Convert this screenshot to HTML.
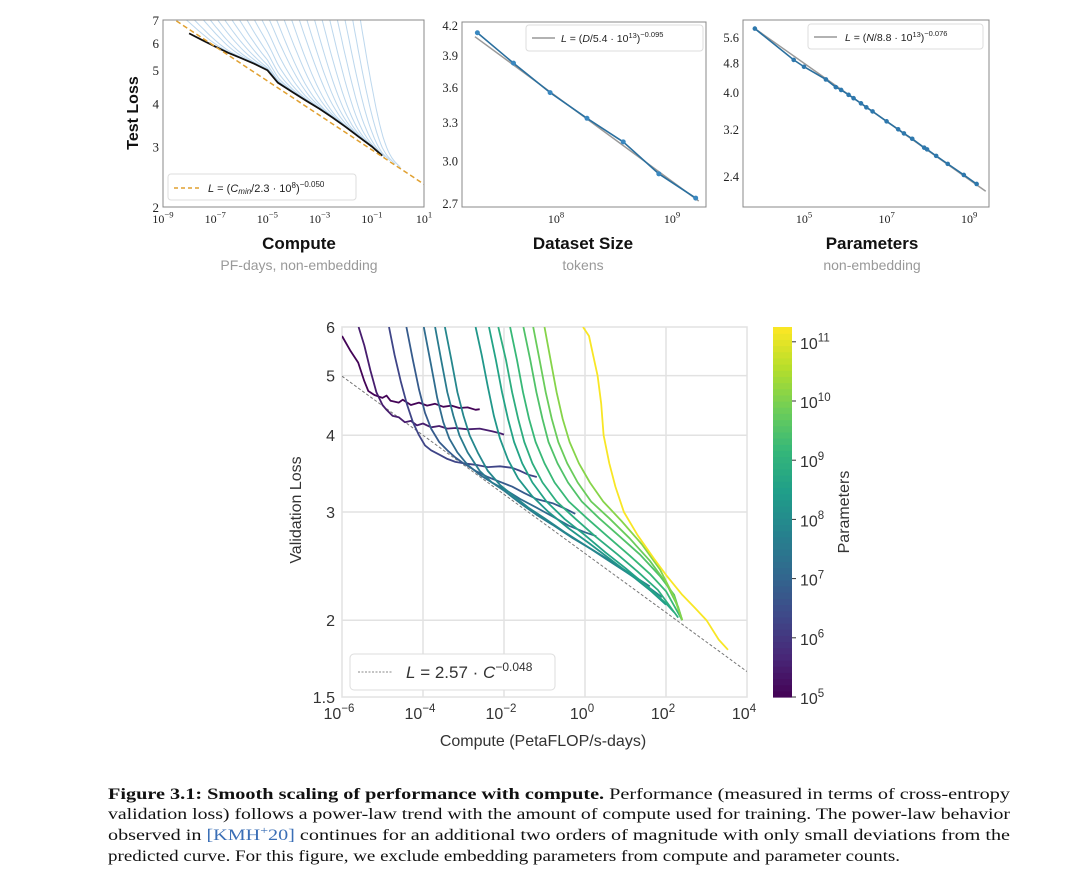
<!DOCTYPE html>
<html><head><meta charset="utf-8">
<style>
html,body{margin:0;padding:0;background:#fff;}
svg{display:block;}
.serif{font-family:"Liberation Serif",serif;}
.sans{font-family:"Liberation Sans",sans-serif;}
</style></head>
<body>
<svg id="fig" width="1080" height="879" viewBox="0 0 1080 879" xmlns="http://www.w3.org/2000/svg">
<g id="p1"></g>
<g id="p2"></g>
<g id="p3"></g>
<g id="main"></g>
<g id="caption" class="serif" font-size="16" fill="#111">
<text x="108" y="799" textLength="902" lengthAdjust="spacingAndGlyphs"><tspan font-weight="bold">Figure 3.1: Smooth scaling of performance with compute.</tspan> Performance (measured in terms of cross-entropy</text>
<text x="108" y="819" textLength="902" lengthAdjust="spacingAndGlyphs">validation loss) follows a power-law trend with the amount of compute used for training. The power-law behavior</text>
<text x="108" y="840" textLength="902" lengthAdjust="spacingAndGlyphs">observed in <tspan fill="#3b6fb6">[KMH<tspan baseline-shift="super" font-size="11">+</tspan>20]</tspan> continues for an additional two orders of magnitude with only small deviations from the</text>
<text x="108" y="861" textLength="792" lengthAdjust="spacingAndGlyphs">predicted curve. For this figure, we exclude embedding parameters from compute and parameter counts.</text>
</g>
</svg>
<script>
// ---------- DATA ----------
const p1Starts = [-8.6,-8.2,-7.8,-7.5,-7.2,-6.9,-6.6,-6.3,-6.0,-5.7,-5.4,-5.1,-4.8,-4.5,-4.2,-3.9,-3.6,-3.3,-3.0,-2.7,-2.4,-2.1,-1.8,-1.5];
const p1Ends   = [-6.2,-5.8,-5.3,-5.0,-4.6,-4.3,-4.0,-3.7,-3.4,-3.1,-2.8,-2.5,-2.3,-2.0,-1.8,-1.5,-1.3,-1.1,-0.9,-0.7,-0.5,-0.3,-0.1,0.1];
const p1FrontierX = [-8.0,-7.5,-7.0,-6.5,-6.0,-5.5,-5.0,-4.6,-4.0,-3.5,-3.0,-2.5,-2.0,-1.5,-1.0,-0.6];
const p1FrontierY = [6.4,6.12,5.86,5.62,5.42,5.22,5.0,4.6,4.3,4.07,3.86,3.64,3.42,3.2,3.0,2.82];
const p1FitX = [-9,1];
const p1FitY = [7.38,2.33];
const p2X = [2.1e7,4.3e7,8.9e7,1.85e8,3.8e8,7.7e8,1.6e9];
const p2Y = [4.13,3.83,3.56,3.34,3.15,2.91,2.74];
const p2FitX = [2.0e7,1.7e9];
const p2FitY = [4.09,2.72];
const p3X = [3.81,4.75,5.0,5.53,5.77,5.9,6.08,6.2,6.38,6.51,6.66,7.0,7.28,7.42,7.62,7.91,7.98,8.2,8.48,8.87,9.18];
const p3Y = [5.93,4.9,4.7,4.35,4.15,4.08,3.96,3.88,3.76,3.67,3.58,3.37,3.21,3.13,3.03,2.87,2.84,2.73,2.6,2.43,2.3];
const p3FitX = [3.81,9.4];
const p3FitY = [5.93,2.2];
const mainParams = [5.05,5.5,6.3,6.8,7.2,7.6,7.9,8.3,8.6,8.9,9.2,9.5,9.8,10.1,11.2];
const mainCurves = [
 [[-6,5.8],[-5.8,5.5],[-5.6,5.25],[-5.45,4.9],[-5.35,4.72],[-5.2,4.65],[-5.0,4.6],[-4.9,4.64],[-4.8,4.55],[-4.6,4.52],[-4.5,4.57],[-4.3,4.48],[-4.1,4.52],[-3.9,4.47],[-3.7,4.5],[-3.5,4.45],[-3.3,4.47],[-3.1,4.43],[-2.9,4.44],[-2.7,4.40],[-2.6,4.41]],
 [[-5.59,6],[-5.45,5.6],[-5.3,5.1],[-5.15,4.7],[-5.0,4.48],[-4.9,4.4],[-4.75,4.3],[-4.6,4.28],[-4.45,4.2],[-4.3,4.22],[-4.15,4.15],[-4.0,4.18],[-3.8,4.12],[-3.6,4.14],[-3.4,4.1],[-3.2,4.11],[-2.9,4.09],[-2.6,4.1],[-2.3,4.06],[-2.1,4.03],[-2.0,4.01]],
 [[-4.84,6],[-4.7,5.4],[-4.55,4.9],[-4.4,4.5],[-4.25,4.2],[-4.1,4.0],[-3.95,3.85],[-3.8,3.78],[-3.6,3.72],[-3.4,3.66],[-3.2,3.62],[-3.0,3.6],[-2.7,3.58],[-2.4,3.55],[-2.1,3.56],[-1.8,3.54],[-1.6,3.5],[-1.4,3.45],[-1.19,3.42]],
 [[-4.41,6],[-4.25,5.3],[-4.1,4.75],[-3.95,4.35],[-3.8,4.1],[-3.6,3.9],[-3.4,3.78],[-3.2,3.68],[-3.0,3.6],[-2.7,3.5],[-2.4,3.42],[-2.1,3.36],[-1.8,3.3],[-1.5,3.22],[-1.2,3.15],[-0.8,3.1],[-0.5,3.04],[-0.24,2.98]],
 [[-3.98,6],[-3.8,5.2],[-3.65,4.6],[-3.5,4.2],[-3.35,3.95],[-3.15,3.75],[-2.9,3.58],[-2.6,3.45],[-2.3,3.35],[-2.0,3.27],[-1.6,3.15],[-1.2,3.05],[-0.8,2.95],[-0.4,2.85],[0,2.78],[0.28,2.74]],
 [[-3.70,6],[-3.55,5.3],[-3.4,4.7],[-3.25,4.3],[-3.1,4.0],[-2.9,3.75],[-2.6,3.5],[-2.3,3.35],[-2.0,3.25],[-1.6,3.1],[-1.2,2.97],[-0.8,2.86],[-0.3,2.72],[0.2,2.6],[0.7,2.48],[1.2,2.36],[1.6,2.27]],
 [[-3.46,6],[-3.3,5.3],[-3.15,4.7],[-3.0,4.3],[-2.85,4.0],[-2.65,3.75],[-2.4,3.5],[-2.1,3.32],[-1.8,3.2],[-1.4,3.05],[-1.0,2.93],[-0.5,2.78],[0,2.65],[0.5,2.52],[1.0,2.4],[1.5,2.28],[1.9,2.18]],
 [[-2.70,6],[-2.55,5.4],[-2.4,4.8],[-2.25,4.3],[-2.1,3.95],[-1.9,3.65],[-1.65,3.4],[-1.3,3.18],[-0.9,3.0],[-0.4,2.82],[0.1,2.67],[0.6,2.52],[1.1,2.38],[1.6,2.24],[2.0,2.12]],
 [[-2.37,6],[-2.2,5.3],[-2.05,4.7],[-1.9,4.25],[-1.75,3.9],[-1.55,3.6],[-1.3,3.35],[-0.95,3.12],[-0.5,2.92],[0,2.75],[0.5,2.58],[1.0,2.43],[1.5,2.28],[2.0,2.13],[2.2,2.06]],
 [[-2.14,6],[-1.95,5.3],[-1.8,4.7],[-1.65,4.25],[-1.5,3.9],[-1.3,3.6],[-1.05,3.35],[-0.7,3.12],[-0.25,2.93],[0.25,2.74],[0.8,2.56],[1.3,2.4],[1.8,2.24],[2.3,2.02]],
 [[-1.85,6],[-1.68,5.3],[-1.53,4.7],[-1.38,4.25],[-1.22,3.9],[-1.0,3.6],[-0.75,3.35],[-0.4,3.12],[0.05,2.93],[0.55,2.74],[1.1,2.55],[1.6,2.38],[2.0,2.23],[2.4,2.0]],
 [[-1.52,6],[-1.35,5.3],[-1.2,4.7],[-1.05,4.25],[-0.9,3.9],[-0.68,3.6],[-0.42,3.35],[-0.08,3.12],[0.35,2.93],[0.85,2.74],[1.35,2.56],[1.85,2.36],[2.2,2.2],[2.4,2.0]],
 [[-1.28,6],[-1.12,5.3],[-0.97,4.7],[-0.82,4.25],[-0.66,3.9],[-0.44,3.6],[-0.18,3.35],[0.15,3.12],[0.6,2.93],[1.1,2.72],[1.6,2.5],[2.0,2.3],[2.3,2.1],[2.4,2.0]],
 [[-1.0,6],[-0.85,5.3],[-0.7,4.7],[-0.55,4.25],[-0.38,3.9],[-0.15,3.6],[0.12,3.35],[0.45,3.12],[0.9,2.9],[1.4,2.66],[1.85,2.42],[2.2,2.18],[2.4,2.0]],
 [[-0.05,6],[0.1,5.8],[0.2,5.4],[0.31,5.0],[0.4,4.5],[0.46,4.0],[0.6,3.6],[0.75,3.3],[0.96,3.0],[1.3,2.75],[1.7,2.52],[2.0,2.37],[2.4,2.2],[2.7,2.1],[3.0,2.0],[3.3,1.86],[3.53,1.79]]
];
const mainFitX = [-6,4];
const mainFitY = [4.99,1.65];
const mainYTicks = [1.5,2,3,4,5,6];
const mainYTickLabels = ["1.5","2","3","4","5","6"];
const mainXTicks = [-6,-4,-2,0,2,4];
const cbTicks = [5,6,7,8,9,10,11];

// ---------- HELPERS ----------
const NS = "http://www.w3.org/2000/svg";
function mk(parent, tag, attrs, txt){
  const e = document.createElementNS(NS, tag);
  for (const k in attrs) e.setAttribute(k, attrs[k]);
  if (txt !== undefined) e.textContent = txt;
  parent.appendChild(e);
  return e;
}
const L10 = Math.log10;
const viridis = ["#440154","#482878","#3e4989","#31688e","#26828e","#1f9e89","#35b779","#6ece58","#b5de2b","#fde725"];
function vcol(t){
  t = Math.max(0, Math.min(1, t));
  const f = t*(viridis.length-1), i = Math.floor(f), r = f - i;
  if (i >= viridis.length-1) return viridis[viridis.length-1];
  const a = viridis[i], b = viridis[i+1];
  const h = (s,o)=>parseInt(s.substr(o,2),16);
  const c = o => Math.round(h(a,o)*(1-r)+h(b,o)*r);
  return "rgb("+c(1)+","+c(3)+","+c(5)+")";
}
function sup(parent, x, y, base, exp, fs, anchor, cls, fill){
  const t = mk(parent, "text", {x:x, y:y, "font-size":fs, "text-anchor":anchor||"middle", class:cls, fill:fill||"#222"});
  
  
  mk(t, "tspan", {}, base);
  mk(t, "tspan", {dy:-fs*0.45, "font-size":fs*0.72}, exp);
  return t;
}

// ---------- PANEL 1 ----------
(function(){
  const g = document.getElementById("p1");
  const X0=163, X1=424, Y0=20, Y1=207;
  const xs = v => X0 + (v+9)/10*(X1-X0);
  const ys = v => Y1 - (L10(v)-L10(2))/(L10(7)-L10(2))*(Y1-Y0);
  const clip = mk(g,"clipPath",{id:"c1"}); mk(clip,"rect",{x:X0,y:Y0,width:X1-X0,height:Y1-Y0});
  const cg = mk(g,"g",{"clip-path":"url(#c1)"});
  function front(x){
    for (let i=0;i<p1FrontierX.length-1;i++){
      if (x<=p1FrontierX[i+1]){const r=(x-p1FrontierX[i])/(p1FrontierX[i+1]-p1FrontierX[i]);return p1FrontierY[i]*(1-r)+p1FrontierY[i+1]*r;}
    }
    const n=p1FrontierX.length-1; return p1FrontierY[n]*Math.pow(10,-0.05*(x-p1FrontierX[n]));
  }
  p1Starts.forEach((s,i)=>{
    const e = p1Ends[i];
    let d = "";
    const steps = 24;
    for (let k=0;k<=steps;k++){
      const x = s + (e-s)*k/steps;
      const fr = front(x);
      const u = k/steps;
      const l = fr + (7.4-fr)*Math.pow(1-u,3) + 0.08*Math.pow(1-u,0.5);
      d += (k?"L":"M")+xs(x).toFixed(1)+","+ys(l).toFixed(1);
    }
    const p = mk(cg,"path",{d:d,fill:"none",stroke:"#6aa7d8","stroke-width":1,"stroke-opacity":0.45});
    
    
  });
  let fd=""; p1FrontierX.forEach((x,i)=>{fd+=(i?"L":"M")+xs(x)+","+ys(p1FrontierY[i]);});
  const fp = mk(cg,"path",{d:fd,fill:"none",stroke:"#111","stroke-width":1.8});
  
  
  const fit = mk(cg,"line",{x1:xs(p1FitX[0]),y1:ys(p1FitY[0]),x2:xs(p1FitX[1]),y2:ys(p1FitY[1]),stroke:"#e0a030","stroke-width":1.5,"stroke-dasharray":"5,3"});
  
  
  mk(g,"rect",{x:X0,y:Y0,width:X1-X0,height:Y1-Y0,fill:"none",stroke:"#888","stroke-width":1});
  [2,3,4,5,6,7].forEach(v=>{
    const t = mk(g,"text",{x:X0-4,y:ys(v)+5,"font-size":13,"text-anchor":"end",class:"serif",fill:"#222"},String(v));
    
    
  });
  [-9,-7,-5,-3,-1,1].forEach(v=>sup(g,xs(v),Y1+16,"10",v<0?"−"+(-v):String(v),12,"middle","serif"));
  const lg = mk(g,"g",{});
  
  
  mk(lg,"rect",{x:168,y:174,width:188,height:26,rx:3,fill:"#fff",stroke:"#ddd"});
  mk(lg,"line",{x1:174,y1:188,x2:202,y2:188,stroke:"#e0a030","stroke-width":1.5,"stroke-dasharray":"4,3"});
  const lt = mk(lg,"text",{x:208,y:192,"font-size":11,class:"sans",fill:"#222","font-style":"italic"});
  mk(lt,"tspan",{},"L");mk(lt,"tspan",{"font-style":"normal"}," = (");mk(lt,"tspan",{},"C");mk(lt,"tspan",{"font-size":8,dy:2},"min");mk(lt,"tspan",{"font-style":"normal",dy:-2},"/2.3 · 10");mk(lt,"tspan",{"font-style":"normal","font-size":8,dy:-4},"8");mk(lt,"tspan",{"font-style":"normal",dy:4},")");mk(lt,"tspan",{"font-style":"normal","font-size":8,dy:-5},"−0.050");
  const yt = mk(g,"text",{x:138,y:113,"font-size":16,"font-weight":"bold",class:"sans","text-anchor":"middle",transform:"rotate(-90 138 113)",fill:"#111"},"Test Loss");
  
  
  const xt = mk(g,"text",{x:299,y:249,"font-size":17,"font-weight":"bold",class:"sans","text-anchor":"middle",fill:"#111"},"Compute");
  
  
  const st = mk(g,"text",{x:299,y:270,"font-size":14,class:"sans","text-anchor":"middle",fill:"#999"},"PF-days, non-embedding");
  
  
})();

// ---------- PANEL 2 ----------
(function(){
  const g = document.getElementById("p2");
  const X0=462, X1=706, Y0=22, Y1=207;
  const xs = v => 556 + (L10(v)-8)*116;
  const ys = v => 26 + (L10(4.2)-L10(v))/(L10(4.2)-L10(2.7))*178;
  mk(g,"rect",{x:X0,y:Y0,width:X1-X0,height:Y1-Y0,fill:"none",stroke:"#888"});
  const fit = mk(g,"line",{x1:xs(p2FitX[0]),y1:ys(p2FitY[0]),x2:xs(p2FitX[1]),y2:ys(p2FitY[1]),stroke:"#999","stroke-width":1.5});
  
  
  let d=""; p2X.forEach((x,i)=>{d+=(i?"L":"M")+xs(x)+","+ys(p2Y[i]);});
  const ln = mk(g,"path",{d:d,fill:"none",stroke:"#2a6f9e","stroke-width":1.6});
  
  
  p2X.forEach((x,i)=>{
    const c = mk(g,"circle",{cx:xs(x),cy:ys(p2Y[i]),r:2.5,fill:"#3a88c0"});
    
    
  });
  [2.7,3.0,3.3,3.6,3.9,4.2].forEach(v=>{
    const t = mk(g,"text",{x:X0-4,y:ys(v)+4,"font-size":12.5,"text-anchor":"end",class:"serif",fill:"#222"},v.toFixed(1));
    
    
  });
  [8,9].forEach(v=>sup(g,xs(Math.pow(10,v)),Y1+16,"10",String(v),12,"middle","serif"));
  const lg = mk(g,"g",{});
  
  
  mk(lg,"rect",{x:526,y:25,width:177,height:26,rx:3,fill:"#fff",stroke:"#ddd"});
  mk(lg,"line",{x1:532,y1:38,x2:555,y2:38,stroke:"#999","stroke-width":1.5});
  const lt = mk(lg,"text",{x:561,y:42,"font-size":10.5,class:"sans",fill:"#222"});
  mk(lt,"tspan",{"font-style":"italic"},"L");mk(lt,"tspan",{}," = (");mk(lt,"tspan",{"font-style":"italic"},"D");mk(lt,"tspan",{},"/5.4 · 10");mk(lt,"tspan",{"font-size":7.5,dy:-4},"13");mk(lt,"tspan",{dy:4},")");mk(lt,"tspan",{"font-size":7.5,dy:-5},"−0.095");
  const xt = mk(g,"text",{x:583,y:249,"font-size":17,"font-weight":"bold",class:"sans","text-anchor":"middle",fill:"#111"},"Dataset Size");
  
  
  const st = mk(g,"text",{x:583,y:270,"font-size":14,class:"sans","text-anchor":"middle",fill:"#999"},"tokens");
  
  
})();

// ---------- PANEL 3 ----------
(function(){
  const g = document.getElementById("p3");
  const X0=743, X1=989, Y0=20, Y1=207;
  const xs = v => 804 + (v-5)*41.3;
  const ys = v => 38 + (L10(5.6)-L10(v))/(L10(5.6)-L10(2.4))*139;
  mk(g,"rect",{x:X0,y:Y0,width:X1-X0,height:Y1-Y0,fill:"none",stroke:"#888"});
  const cl = mk(g,"clipPath",{id:"c3"}); mk(cl,"rect",{x:X0,y:Y0,width:X1-X0,height:Y1-Y0});
  const fit = mk(g,"line",{x1:xs(p3FitX[0]),y1:ys(p3FitY[0]),x2:xs(p3FitX[1]),y2:ys(p3FitY[1]),stroke:"#999","stroke-width":1.5,"clip-path":"url(#c3)"});
  
  
  let d=""; p3X.forEach((x,i)=>{d+=(i?"L":"M")+xs(x)+","+ys(p3Y[i]);});
  const ln = mk(g,"path",{d:d,fill:"none",stroke:"#2a6f9e","stroke-width":1.6});
  
  
  p3X.forEach((x,i)=>{
    const c = mk(g,"circle",{cx:xs(x),cy:ys(p3Y[i]),r:2.3,fill:"#2e78ad"});
    
    
  });
  ["2.4","3.2","4.0","4.8","5.6"].forEach(v=>{
    const t = mk(g,"text",{x:X0-4,y:ys(+v)+4,"font-size":12.5,"text-anchor":"end",class:"serif",fill:"#222"},v);
    
    
  });
  [5,7,9].forEach(v=>sup(g,xs(v),Y1+16,"10",String(v),12,"middle","serif"));
  const lg = mk(g,"g",{});
  
  
  mk(lg,"rect",{x:808,y:24,width:175,height:25,rx:3,fill:"#fff",stroke:"#ddd"});
  mk(lg,"line",{x1:814,y1:37,x2:837,y2:37,stroke:"#999","stroke-width":1.5});
  const lt = mk(lg,"text",{x:845,y:41,"font-size":10.5,class:"sans",fill:"#222"});
  mk(lt,"tspan",{"font-style":"italic"},"L");mk(lt,"tspan",{}," = (");mk(lt,"tspan",{"font-style":"italic"},"N");mk(lt,"tspan",{},"/8.8 · 10");mk(lt,"tspan",{"font-size":7.5,dy:-4},"13");mk(lt,"tspan",{dy:4},")");mk(lt,"tspan",{"font-size":7.5,dy:-5},"−0.076");
  const xt = mk(g,"text",{x:872,y:249,"font-size":17,"font-weight":"bold",class:"sans","text-anchor":"middle",fill:"#111"},"Parameters");
  
  
  const st = mk(g,"text",{x:872,y:270,"font-size":14,class:"sans","text-anchor":"middle",fill:"#999"},"non-embedding");
  
  
})();

// ---------- MAIN CHART ----------
(function(){
  const g = document.getElementById("main");
  const X0=342, X1=747, Y0=327, Y1=697;
  const xs = v => X0 + (v+6)/10*(X1-X0);
  const ys = v => Y0 + (L10(6)-L10(v))/(L10(6)-L10(1.5))*(Y1-Y0);
  const CB0=5, CB1=11.25;
  mainYTicks.forEach(v=>{ if(v>1.5&&v<6){ const l=mk(g,"line",{x1:X0,x2:X1,y1:ys(v),y2:ys(v),stroke:"#e2e2e2","stroke-width":1.5});   }});
  mainXTicks.forEach(v=>{ if(v>-6&&v<4){ const l=mk(g,"line",{x1:xs(v),x2:xs(v),y1:Y0,y2:Y1,stroke:"#e2e2e2","stroke-width":1.5});   }});
  mk(g,"rect",{x:X0,y:Y0,width:X1-X0,height:Y1-Y0,fill:"none",stroke:"#e2e2e2","stroke-width":1.5});
  const cl = mk(g,"clipPath",{id:"cm"}); mk(cl,"rect",{x:X0,y:Y0,width:X1-X0,height:Y1-Y0});
  const cg = mk(g,"g",{"clip-path":"url(#cm)"});
  const fit = mk(cg,"line",{x1:xs(mainFitX[0]),y1:ys(mainFitY[0]),x2:xs(mainFitX[1]),y2:ys(mainFitY[1]),stroke:"#777","stroke-width":1,"stroke-dasharray":"3,2"});
  
  
  mainCurves.forEach((pts,i)=>{
    let d=""; pts.forEach((p,k)=>{d+=(k?"L":"M")+xs(p[0]).toFixed(1)+","+ys(p[1]).toFixed(1);});
    const c = mk(cg,"path",{d:d,fill:"none",stroke:vcol((mainParams[i]-CB0)/(CB1-CB0)),"stroke-width":1.8,"stroke-linejoin":"round"});
    
    
  });
  mainYTicks.forEach((v,i)=>{
    const t = mk(g,"text",{x:X0-7,y:ys(v)+6,"font-size":16,"text-anchor":"end",class:"sans",fill:"#333"},mainYTickLabels[i]);
    
    
  });
  mainXTicks.forEach(v=>sup(g,xs(v)-3,Y1+22,"10",v<0?"−"+(-v):String(v),16,"middle","sans","#333"));
  const lg = mk(g,"g",{});
  
  
  mk(lg,"rect",{x:350,y:654,width:205,height:36,rx:4,fill:"#fff",stroke:"#ddd"});
  mk(lg,"line",{x1:358,y1:672,x2:392,y2:672,stroke:"#888","stroke-width":1,"stroke-dasharray":"2,1.5"});
  const lt = mk(lg,"text",{x:406,y:678,"font-size":17,class:"sans",fill:"#333"});
  mk(lt,"tspan",{"font-style":"italic"},"L");mk(lt,"tspan",{}," = 2.57 · ");mk(lt,"tspan",{"font-style":"italic"},"C");mk(lt,"tspan",{"font-size":12,dy:-7},"−0.048");
  const yt = mk(g,"text",{x:301,y:510,"font-size":16,class:"sans","text-anchor":"middle",transform:"rotate(-90 301 510)",fill:"#333"},"Validation Loss");
  
  
  const xt = mk(g,"text",{x:543,y:746,"font-size":16,class:"sans","text-anchor":"middle",fill:"#333"},"Compute (PetaFLOP/s-days)");
  
  
  const cb = mk(g,"g",{});
  
  
  const cbx=773, cbw=19;
  const cy = v => Y1 - (v-CB0)/(CB1-CB0)*(Y1-Y0);
  const n = 60;
  for (let k=0;k<n;k++){
    const t0=k/n;
    mk(cb,"rect",{x:cbx,y:(Y1-(k+1)/n*(Y1-Y0)).toFixed(2),width:cbw,height:((Y1-Y0)/n+0.6).toFixed(2),fill:vcol(t0+0.5/n)});
  }
  cbTicks.forEach(v=>{
    mk(cb,"line",{x1:cbx+cbw,x2:cbx+cbw+4,y1:cy(v),y2:cy(v),stroke:"#333"});
    sup(cb,cbx+cbw+8,cy(v)+7,"10",String(v),16,"start","sans","#333");
  });
  const cbl = mk(cb,"text",{x:849,y:512,"font-size":16,class:"sans","text-anchor":"middle",transform:"rotate(-90 849 512)",fill:"#333"},"Parameters");
  
  
})();
</script>
</body></html>
